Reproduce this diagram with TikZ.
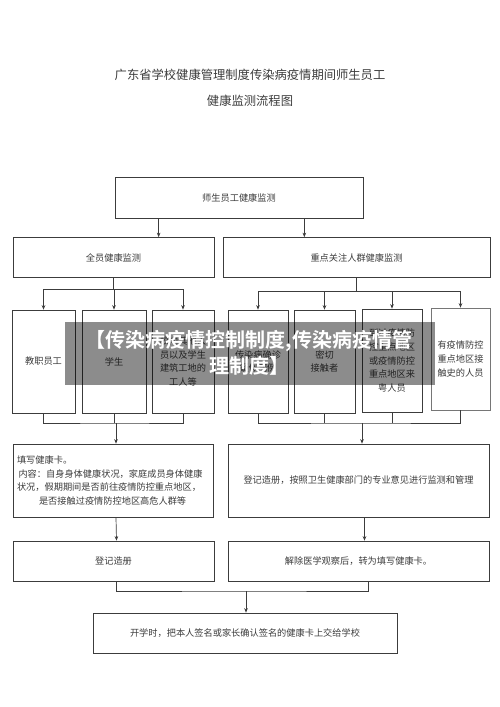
\documentclass[tikz,border=0pt]{standalone}
\usepackage{fontspec}
\newfontfamily\cjk{Noto Sans CJK SC}[BoldFont={Noto Sans CJK SC Bold}]
\usepackage{tikz}
\usetikzlibrary{arrows.meta, positioning}

\definecolor{inkgray}{HTML}{3C3C3C}
\tikzset{
    box/.style={draw=inkgray, line width=0.7pt, inner sep=1pt, align=center,
        text=inkgray, font=\cjk\fontsize{9.2}{13.8}\selectfont},
    flow/.style={draw=inkgray, line width=0.7pt},
    arr/.style={flow, -{Stealth[length=4.5pt, width=3.6pt]}}
}

\begin{document}
\begin{tikzpicture}[x=1pt, y=-1pt]
        \useasboundingbox[fill=white] (0,0) rectangle (500,707);

        % 标题
        \node[align=center, text=inkgray, font=\cjk\fontsize{12.3}{26}\selectfont] (title) at (250,88)
            {广东省学校健康管理制度传染病疫情期间师生员工\\健康监测流程图};

        % 第一、二层
        \node[box, minimum width=248, minimum height=41] (top) at (239,197.5) {师生员工健康监测};
        \node[box, minimum width=201, minimum height=40] (all) at (113.5,257.5) {全员健康监测};
        \node[box, minimum width=267, minimum height=40] (focus) at (356.5,257.5) {重点关注人群健康监测};

        % 第三层 人群
        \node[box, minimum width=63, minimum height=103] (staff) at (43.5,361.5) {教职员工};
        \node[box, minimum width=64, minimum height=103] (pupil) at (114,361.5) {学生};
        \node[box, minimum width=62, minimum height=103] (other) at (183,361.5) {校内其他人\\员以及学生\\建筑工地的\\工人等};
        \node[box, minimum width=60, minimum height=103] (case) at (258,361.5) {传染病确诊\\疑似病例};
        \node[box, minimum width=61, minimum height=103] (close) at (324.5,361.5) {密切\\接触者};
        \node[box, minimum width=60, minimum height=103] (trip) at (392,360.5) {到过疫情防\\控重点地区\\或疫情防控\\重点地区来\\粤人员};
        \node[box, minimum width=59, minimum height=102, draw=inkgray!70] (expo) at (460.5,359) {有疫情防控\\重点地区接\\触史的人员};

        % 第四层
        \node[box, minimum width=200, minimum height=73, text width=192, align=left] (card) at (113,480.5)
            {填写健康卡。\\
             \,内容：自身身体健康状况，家庭成员身体健康\\
             状况，假期期间是否前往疫情防控重点地区，\\
             \hspace*{22pt}是否接触过疫情防控地区高危人群等};
        \node[box, minimum width=261, minimum height=73] (reg) at (358.5,480.5) {登记造册，按照卫生健康部门的专业意见进行监测和管理};

        % 第五、六层
        \node[box, minimum width=201, minimum height=40] (book) at (113.5,561) {登记造册};
        \node[box, minimum width=261, minimum height=40] (lift) at (358.5,561) {解除医学观察后，转为填写健康卡。};
        \node[box, minimum width=304, minimum height=40] (final) at (245,633) {开学时，把本人签名或家长确认签名的健康卡上交给学校};

        % 连线
        \draw[arr] ([xshift=44pt]top.south west) -- ([xshift=44pt]top.south west |- all.north);
        \draw[arr] ([xshift=-59pt]top.south east) -- ([xshift=-59pt]top.south east |- focus.north);

        \foreach \k in {staff, pupil, other}
            \draw[arr] (all.south) -- ++(0,11.5) -| (\k.north);
        \foreach \k in {case, close, trip, expo}
            \draw[arr] (focus.south) -- ++(0,13) -| (\k.north);

        \coordinate (jl) at (116,423);
        \coordinate (jr) at (362,423);
        \draw[flow] (staff.south) |- (jl) -| (other.south);
        \draw[flow] (pupil.south) -- (pupil.south |- jl);
        \draw[arr] (jl) -- (jl |- card.north);
        \draw[flow] (case.south) |- (jr) -| (expo.south);
        \draw[flow] (close.south) -- (close.south |- jr);
        \draw[flow] (trip.south) -- (trip.south |- jr);
        \draw[arr] (jr) -- (jr |- reg.north);

        \draw[arr] ([xshift=3pt]card.south) -- ([xshift=3pt]book.north);
        \draw[arr] ([xshift=6pt]reg.south) -- ([xshift=6pt]lift.north);

        \coordinate (jb) at (246,591);
        \draw[flow] ([xshift=3pt]book.south) |- (jb) -| ([xshift=10pt]lift.south);
        \draw[arr] (jb) -- (jb |- final.north);

        % 水印横幅
        \fill[black, opacity=0.45] (65,322) rectangle (435,385);
        \node[align=center, text=white, font=\cjk\bfseries\fontsize{20}{26}\selectfont] (mark) at (249,353)
            {【传染病疫情控制制度,传染病疫情管\\理制度】};
\end{tikzpicture}
\end{document}
